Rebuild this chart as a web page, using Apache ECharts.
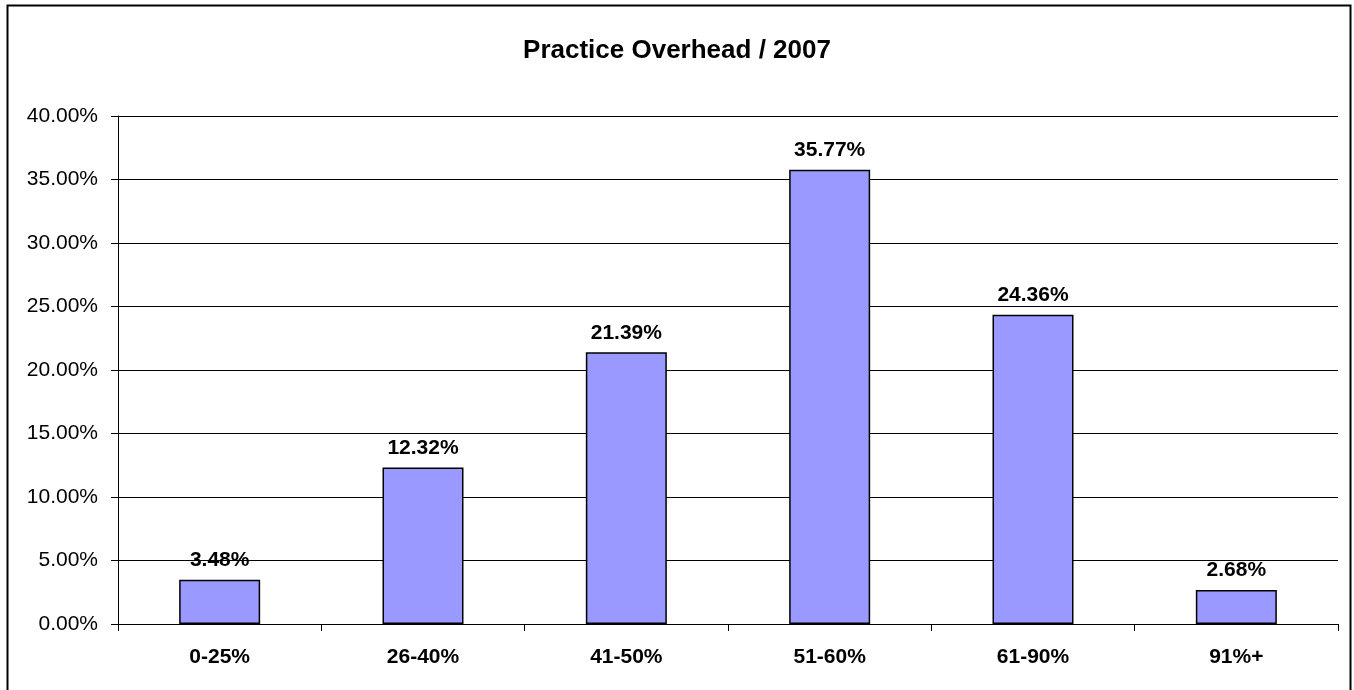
<!DOCTYPE html>
<html>
<head>
<meta charset="utf-8">
<script src="https://cdn.jsdelivr.net/npm/echarts@6/dist/echarts.min.js"></script>
<style>html,body{margin:0;padding:0;background:#fff}#c{width:1354px;height:690px}</style>
</head>
<body>
<div id="c"></div>
<script>
const categories = ['0-25%', '26-40%', '41-50%', '51-60%', '61-90%', '91%+'];
const values = [3.48, 12.32, 21.39, 35.77, 24.36, 2.68];
const titleText = 'Practice Overhead / 2007';

const chart = echarts.init(document.getElementById('c'));
const font = 'Liberation Sans, Arial, sans-serif';
chart.setOption({
  animation: false,
  backgroundColor: '#fff',
  title: {
    text: titleText, left: 'center', top: 33,
    textStyle: { fontFamily: font, fontWeight: 'bold', fontSize: 26, color: '#000' }
  },
  graphic: [{
    type: 'rect', shape: { x: 7.5, y: 5.5, width: 1343, height: 700 },
    style: { fill: 'none', stroke: '#000', lineWidth: 2 }, silent: true
  }],
  grid: { left: 118, right: 16, top: 116, bottom: 66 },
  xAxis: {
    type: 'category', data: categories,
    axisLine: { lineStyle: { color: '#000', width: 1 } },
    axisTick: { show: true, length: 7, alignWithLabel: false, lineStyle: { color: '#000' } },
    axisLabel: { fontFamily: font, fontWeight: 'bold', fontSize: 21, color: '#000', margin: 23 }
  },
  yAxis: {
    type: 'value', min: 0, max: 40, interval: 5,
    axisLine: { show: true, lineStyle: { color: '#000', width: 1 } },
    axisTick: { show: true, length: 7, lineStyle: { color: '#000' } },
    splitLine: { show: true, lineStyle: { color: '#000', width: 1 } },
    axisLabel: { fontFamily: font, fontSize: 21, color: '#000', margin: 20,
      formatter: v => v.toFixed(2) + '%' }
  },
  series: [{
    type: 'bar', data: values, barWidth: 81,
    itemStyle: { color: '#9999FF', borderColor: '#000', borderWidth: 1.5 },
    label: { show: true, position: 'top', distance: 9, fontFamily: font, fontWeight: 'bold',
      fontSize: 21, color: '#000', formatter: p => p.value.toFixed(2) + '%' }
  }]
});
</script>
</body>
</html>
